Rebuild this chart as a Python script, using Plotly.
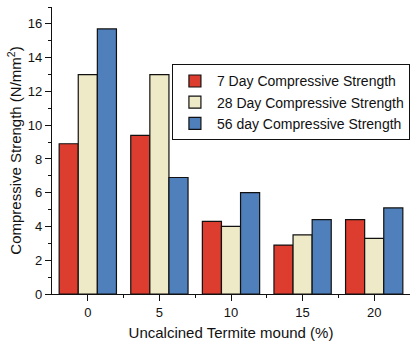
import plotly.graph_objects as go

categories = [0, 5, 10, 15, 20]
day7 = [8.9, 9.4, 4.3, 2.9, 4.4]
day28 = [13.0, 13.0, 4.0, 3.5, 3.3]
day56 = [15.7, 6.9, 6.0, 4.4, 5.1]
series_names = ["7 Day Compressive Strength", "28 Day Compressive Strength", "56 day Compressive Strength"]
colors = ["#DC3D2E", "#EEE9C6", "#4F80BC"]

fig = go.Figure()
for name, vals, col in zip(series_names, [day7, day28, day56], colors):
    fig.add_trace(go.Bar(x=categories, y=vals, name=name,
                         marker=dict(color=col, line=dict(color="#111111", width=1.2))))

font = "Liberation Sans, Arial, sans-serif"
fig.update_layout(
    width=412, height=342,
    margin=dict(l=52, r=2, t=7, b=48),
    barmode="group", bargap=0.2, bargroupgap=0,
    plot_bgcolor="white", paper_bgcolor="white",
    font=dict(family=font, color="#111111", size=13),
    showlegend=True,
    legend=dict(x=0.335, y=0.80, xanchor="left", yanchor="top",
                bgcolor="white", bordercolor="#111111", borderwidth=1,
                font=dict(size=14, family=font), tracegroupgap=0,
                itemwidth=34),
    xaxis=dict(range=[-2.5, 22.5], tickmode="array", tickvals=categories,
               ticktext=[str(c) for c in categories],
               showline=True, linecolor="#111111", linewidth=1.2,
               ticks="outside", ticklen=6, tickcolor="#111111",
               minor=dict(tickvals=[2.5, 7.5, 12.5, 17.5], ticks="outside", ticklen=3, tickcolor="#111111"),
               showgrid=False, zeroline=False,
               title=dict(text="Uncalcined Termite mound (%)", font=dict(size=15), standoff=8)),
    yaxis=dict(range=[0, 17], dtick=2, tick0=0,
               showline=True, linecolor="#111111", linewidth=1.2,
               ticks="outside", ticklen=6, tickcolor="#111111",
               minor=dict(dtick=1, ticks="outside", ticklen=3, tickcolor="#111111"),
               showgrid=False, zeroline=False,
               title=dict(text="Compressive Strength (N/mm<sup>2</sup>)", font=dict(size=15), standoff=2)),
)
fig.write_html("out.html")
